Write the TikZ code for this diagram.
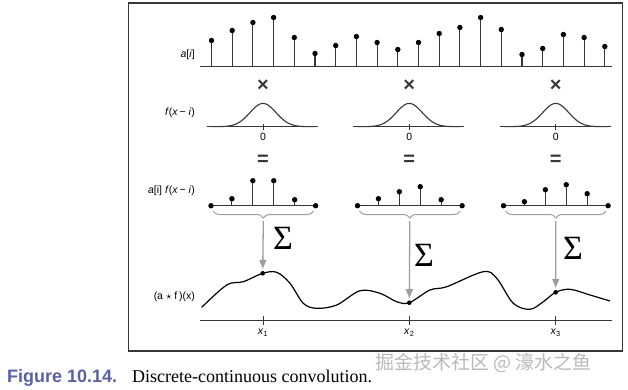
\documentclass[tikz,border=0pt]{standalone}
\usepackage{fontspec}
\setmainfont{Liberation Serif}
\setsansfont{Liberation Sans}
\newfontfamily\cjkfont{Noto Sans CJK SC}
\usetikzlibrary{arrows.meta,decorations.pathreplacing,positioning}
\definecolor{figblue}{RGB}{88,96,168}
\definecolor{axisgray}{RGB}{55,55,55}
\definecolor{sumgray}{RGB}{158,158,158}

\begin{document}
\begin{tikzpicture}[x=1pt, y=-1pt,
            > = {Triangle[length=9pt,width=7pt]},
     axis/.style = {draw=axisgray, line width=1pt},
     stem/.style = {draw=axisgray, line width=1.1pt},
      dot/.style = {circle, fill=black, inner sep=0pt, minimum size=5.4pt},
      lbl/.style = {font=\sffamily\fontsize{10.5}{12}\selectfont, anchor=east, inner sep=0pt},
     tick/.style = {font=\sffamily\fontsize{10.5}{12}\selectfont, inner sep=0pt},
       op/.style = {font=\sffamily\bfseries\fontsize{20}{20}\selectfont, text=axisgray, inner sep=0pt},
 sumarrow/.style = {->, draw=sumgray, line width=1.3pt, shorten >=2pt},
    brace/.style = {draw=sumgray, line width=1pt, decorate, decoration={brace, mirror, amplitude=7pt}},
    sigma/.style = {font=\fontsize{34}{34}\selectfont, inner sep=0pt}
]
\useasboundingbox (0,0) rectangle (628,389);
\draw[line width=1.2pt, draw=axisgray] (128.5,3) rectangle (622.5,351);

% samples a[i]
\draw[axis] (200,66.5) -- (612,66.5);
\foreach \h [count=\i from 0] in {26,36,44,49,29,13,21,30,24,17,24,33,39,49,37,12,18,32,29,20}
    \draw[stem] ({211.5+20.7*\i},66.5) -- ++(0,-\h) node[dot] {};
\node (alabel) [lbl] at (195,55) {\textit{a}[\textit{i}]};

% shifted kernels
\node (flabel) [lbl] at (195,113) {\textit{f}(\textit{x}\,− \textit{i})};
\foreach \c/\k in {263/1, 409.3/2, 555.7/3} {
    \node (times\k) [op] at (\c,86) {×};
    \draw[axis] (\c-56,126.7) -- (\c+55,126.7);
    \draw[axis] (\c,123.5) -- (\c,129.5);
    \draw[line width=1.1pt, draw=axisgray] plot[domain=-52:52, samples=61]
        ({\c+\x}, {126.7-23.3*exp(-(\x)^2/338)});
    \node (zero\k) [tick] at (\c,137) {0};
    \node (eq\k) [op] at (\c,160) {=};
}

% weighted samples
\node (aflabel) [lbl] at (195,191) {\textit{a}[i] \textit{f}(\textit{x}\,− \textit{i})};
\foreach \s/\ha/\hb/\hc/\hd/\k in {211/7/25/25/6/1, 357.5/7/14/19/6/2, 503.5/4/16/21/12/3} {
    \draw[axis] (\s,205.7) -- (\s+104.6,205.7);
    \node (l\k) [dot] at (\s,205.7) {};
    \node (r\k) [dot] at (\s+104.6,205.7) {};
    \foreach \h [count=\j] in {\ha,\hb,\hc,\hd}
        \draw[stem] ({\s+20.92*\j},205.7) -- ++(0,-\h) node[dot] {};
    \draw[brace] (\s+2,211) -- (\s+102.6,211);
    \coordinate (b\k) at (\s+52.3,221);
}

% convolution result
\node (clabel) [lbl] at (195,297) {(a $\star$ f\,)(x)};
\draw[axis] (200,320) -- (612,320);
\draw[line width=1.2pt] plot[smooth, tension=0.55] coordinates {
    (201.7,307.3) (226.7,285) (243.3,281.7) (262.7,273.3) (276.7,272.3)
    (290,283.3) (303.3,303.3) (316.7,308.3) (336.7,305) (360,290.7)
    (380,293.3) (396.7,301.7) (409.3,302.7) (430,290) (446.7,286.7)
    (483.3,271.7) (496.7,278.3) (513.3,303.3) (530,309.3) (543.3,301.7)
    (555.7,292.3) (570,289.3) (590,295) (610,301)};
\coordinate (p1) at (262.7,273.3);
\coordinate (p2) at (409.3,302.7);
\coordinate (p3) at (555.7,292.3);
\foreach \k in {1,2,3} {
    \node (pd\k) [dot, minimum size=4.6pt] at (p\k) {};
    \draw[sumarrow] (b\k) -- (pd\k);
}
\node (sum1) [sigma] at (283,238) {Σ};
\node (sum2) [sigma] at (424,255) {Σ};
\node (sum3) [sigma] at (573,248) {Σ};
\foreach \c/\k in {263/1, 409.3/2, 555.7/3} {
    \draw[axis] (\c,316) -- (\c,324.5);
    \node (x\k) [tick] at (\c,333) {\textit{x}\textsubscript{\k}};
}

% caption
\node (figno) [anchor=base west, inner sep=0pt, text=figblue,
    font=\sffamily\bfseries\fontsize{18}{20}\selectfont] at (7,382) {Figure 10.14.};
\node (caption) [anchor=base west, inner sep=0pt,
    font=\fontsize{18}{20}\selectfont] at (132,382) {Discrete-continuous convolution.};
\node (mark) [anchor=west, inner sep=0pt, text=gray!55,
    font=\cjkfont\fontsize{19}{20}\selectfont] at (375,363) {掘金技术社区 @ 濠水之鱼};
\end{tikzpicture}
\end{document}
